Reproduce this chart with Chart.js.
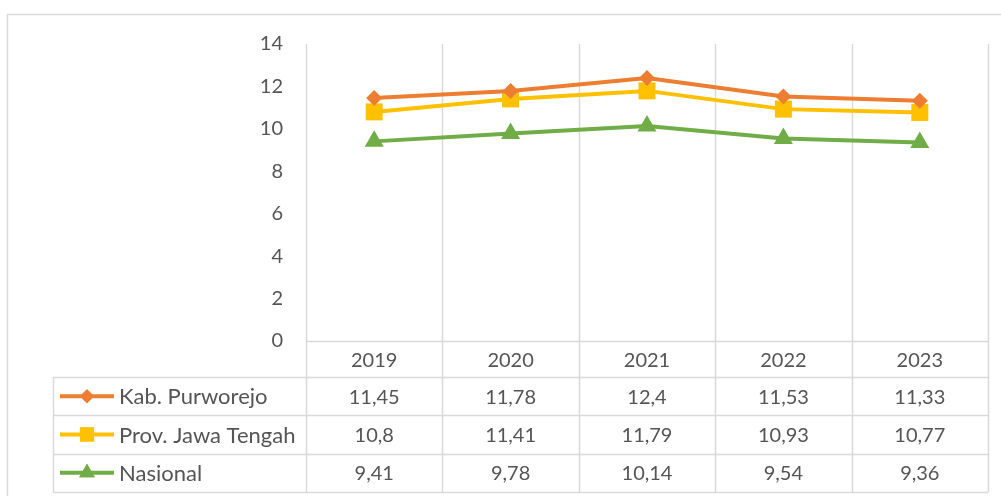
<!DOCTYPE html>
<html>
<head>
<meta charset="utf-8">
<script src="https://cdn.jsdelivr.net/npm/chart.js@4"></script>
<style>
html,body{margin:0;padding:0;background:#fff;}
#wrap{width:1001px;height:496px;position:relative;}
</style>
</head>
<body>
<div id="wrap"><canvas id="c" width="1001" height="496"></canvas></div>
<script>
const categories = ['2019', '2020', '2021', '2022', '2023'];
const seriesNames = ['Kab. Purworejo', 'Prov. Jawa Tengah', 'Nasional'];
const purworejo = [11.45, 11.78, 12.4, 11.53, 11.33];
const jateng = [10.8, 11.41, 11.79, 10.93, 10.77];
const nasional = [9.41, 9.78, 10.14, 9.54, 9.36];
const tableLabels = [
  ['11,45', '11,78', '12,4', '11,53', '11,33'],
  ['10,8', '11,41', '11,79', '10,93', '10,77'],
  ['9,41', '9,78', '10,14', '9,54', '9,36']
];
const yTicks = [0, 2, 4, 6, 8, 10, 12, 14];

const FONT = 'Lato, "Open Sans", sans-serif';
const TXT = '#555555';
const GRID = '#d9d9d9';
const colors = ['#ED7D31', '#FFC000', '#70AD47'];
const styles = ['rectRot', 'rect', 'triangle'];
const radii = [8, 12, 11];

const tablePlugin = {
  id: 'dataTable',
  beforeDatasetsDraw(chart) {
    const ctx = chart.ctx;
    const a = chart.chartArea;
    const xs = chart.scales.x;
    const step = xs.getPixelForValue(1) - xs.getPixelForValue(0);
    const rowTop = a.bottom + 36;
    const rowH = 38.3;
    const tableLeft = 53;
    ctx.save();
    // outer border
    ctx.strokeStyle = GRID;
    ctx.lineWidth = 1.5;
    ctx.beginPath();
    ctx.moveTo(7.5, 496);
    ctx.lineTo(7.5, 14.5);
    ctx.lineTo(1001, 14.5);
    ctx.stroke();
    // vertical lines at category boundaries
    ctx.beginPath();
    for (let i = 0; i <= categories.length; i++) {
      const x = Math.round(xs.getPixelForValue(0) - step / 2 + i * step) + 0.5;
      ctx.moveTo(x, a.top);
      ctx.lineTo(x, rowTop + rowH * 3);
    }
    // horizontal lines
    ctx.moveTo(a.left, a.bottom + 0.5);
    ctx.lineTo(a.right, a.bottom + 0.5);
    for (let r = 0; r <= 3; r++) {
      const y = Math.round(rowTop + r * rowH) + 0.5;
      ctx.moveTo(tableLeft, y);
      ctx.lineTo(a.right, y);
    }
    ctx.moveTo(tableLeft + 0.5, rowTop);
    ctx.lineTo(tableLeft + 0.5, rowTop + rowH * 3);
    ctx.stroke();

    // table values and legend keys
    ctx.fillStyle = TXT;
    ctx.textBaseline = 'middle';
    for (let r = 0; r < 3; r++) {
      const cy = rowTop + r * rowH + rowH / 2 + 1;
      ctx.font = '20px ' + FONT;
      ctx.textAlign = 'center';
      for (let i = 0; i < categories.length; i++) {
        ctx.fillText(tableLabels[r][i], xs.getPixelForValue(i), cy);
      }
      ctx.textAlign = 'left';
      ctx.font = '22px ' + FONT;
      ctx.fillText(seriesNames[r], 119, cy);
      // key line
      ctx.strokeStyle = colors[r];
      ctx.lineWidth = 4;
      ctx.beginPath();
      ctx.moveTo(60, cy - 1);
      ctx.lineTo(114, cy - 1);
      ctx.stroke();
      ctx.fillStyle = colors[r];
      Chart.helpers.drawPoint(ctx, {pointStyle: styles[r], radius: r === 0 ? 7 : (r === 1 ? 10 : 9), rotation: 0, borderWidth: 0}, 87, cy - 1);
      ctx.fill();
      ctx.fillStyle = TXT;
    }
    ctx.restore();
  }
};

const datasets = [purworejo, jateng, nasional].map((d, i) => ({
  label: seriesNames[i],
  data: d,
  borderColor: colors[i],
  backgroundColor: colors[i],
  borderWidth: 4,
  pointStyle: styles[i],
  pointRadius: radii[i],
  pointHoverRadius: radii[i],
  pointBorderWidth: 0,
  pointBackgroundColor: colors[i],
  tension: 0,
  clip: false
}));

new Chart(document.getElementById('c'), {
  type: 'line',
  data: { labels: categories, datasets },
  options: {
    responsive: false,
    animation: false,
    devicePixelRatio: 1,
    layout: { padding: { top: 44, right: 13, left: 0, bottom: 0 } },
    plugins: { legend: { display: false }, tooltip: { enabled: false } },
    scales: {
      x: {
        offset: true,
        grid: { display: false, drawTicks: false },
        border: { display: false },
        ticks: { color: TXT, font: { family: FONT, size: 20 }, padding: 8, maxRotation: 0 },
        afterFit(s) { s.height = 155; }
      },
      y: {
        min: 0, max: 14,
        afterBuildTicks(s) { s.ticks = yTicks.map(v => ({ value: v })); },
        grid: { display: false, drawTicks: false },
        border: { display: false },
        ticks: { color: TXT, font: { family: FONT, size: 20 }, padding: 23 },
        afterFit(s) { s.width = 306; }
      }
    }
  },
  plugins: [tablePlugin]
});
</script>
</body>
</html>
